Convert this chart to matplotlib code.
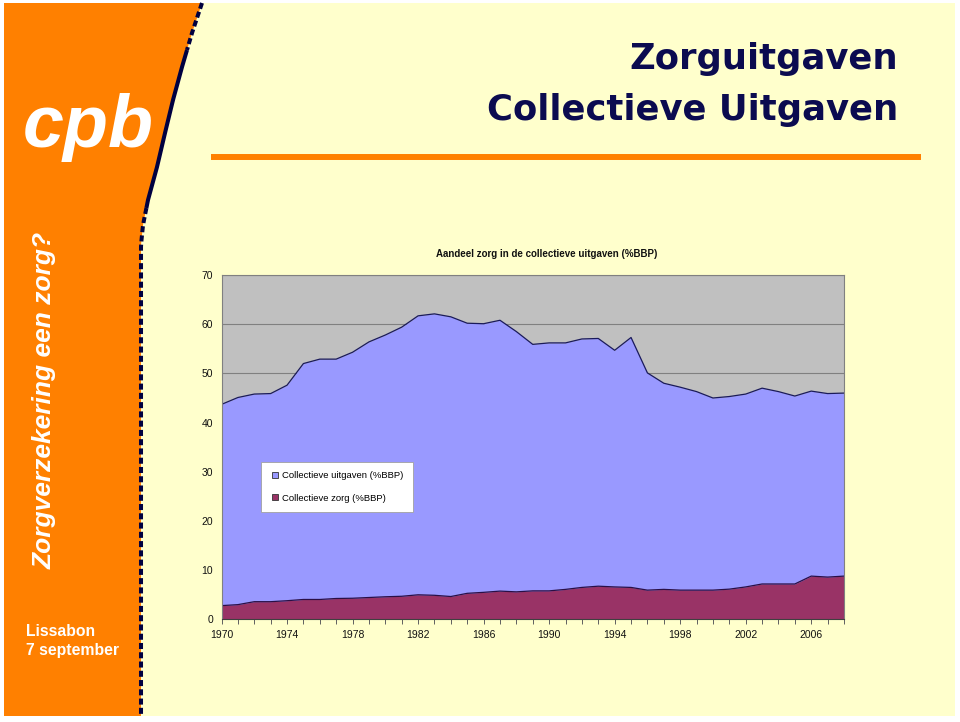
import matplotlib
matplotlib.use("Agg")
import matplotlib.pyplot as plt
from matplotlib.patches import Polygon, Rectangle
from matplotlib.lines import Line2D
from matplotlib.ticker import MultipleLocator, FixedLocator
import numpy as np

plt.rcParams['font.family'] = ['Liberation Sans', 'DejaVu Sans']

# ---------------- data ----------------
years = list(range(1970, 2009))
collectieve_uitgaven = [43.7, 45.1, 45.8, 45.9, 47.6, 52.0, 52.9, 52.9, 54.3, 56.4,
                        57.8, 59.4, 61.7, 62.1, 61.5, 60.2, 60.1, 60.8, 58.5, 55.9,
                        56.2, 56.2, 57.0, 57.1, 54.7, 57.3, 50.1, 48.0, 47.2, 46.3,
                        45.0, 45.3, 45.8, 47.0, 46.3, 45.4, 46.4, 45.9, 46.0]
collectieve_zorg = [2.8, 3.0, 3.6, 3.6, 3.8, 4.05, 4.05, 4.25, 4.3, 4.45,
                    4.6, 4.7, 5.0, 4.9, 4.65, 5.3, 5.5, 5.75, 5.6, 5.8,
                    5.8, 6.1, 6.5, 6.75, 6.6, 6.5, 5.95, 6.1, 5.95, 5.95,
                    5.95, 6.15, 6.6, 7.2, 7.2, 7.2, 8.8, 8.6, 8.8]
series_labels = ['Collectieve uitgaven (%BBP)', 'Collectieve zorg (%BBP)']
chart_title = 'Aandeel zorg in de collectieve uitgaven (%BBP)'
slide_title = ['Zorguitgaven', 'Collectieve Uitgaven']
side_text = 'Zorgverzekering een zorg?'
side_footer = ['Lissabon', '7 september']
logo_text = 'cpb'

# ---------------- colours ----------------
ORANGE = '#FF8000'
CREAM = '#FFFFCC'
NAVY = '#0B0B50'
EDGE = '#000040'
PLOT_BG = '#C0C0C0'
C_UIT = '#9999FF'
C_ZORG = '#993366'
LINE_C = '#1A1A5A'

W, H = 960, 722
fig = plt.figure(figsize=(W / 100, H / 100), dpi=100, facecolor='white')

# background / decoration layer in pixel coordinates
bg = fig.add_axes([0, 0, 1, 1])
bg.set_xlim(0, W)
bg.set_ylim(H, 0)
bg.axis('off')

bg.add_patch(Rectangle((4, 3), 955 - 4, 716 - 3, facecolor=CREAM, edgecolor='none', zorder=0))

curve = [(202, 3), (192, 33), (182, 67), (173, 100), (165, 133), (157, 167),
         (148, 200), (143, 225), (141, 245), (141, 716)]
side_poly = [(4, 3)] + curve + [(4, 716)]
bg.add_patch(Polygon(side_poly, closed=True, facecolor=ORANGE, edgecolor='none', zorder=1))

cx = np.array([p[0] for p in curve], dtype=float)
cy = np.array([p[1] for p in curve], dtype=float)
ys_top = np.linspace(3, 50, 20)
bg.plot(np.interp(ys_top, cy, cx), ys_top, color=EDGE, lw=2.9,
        ls=(0, (1.5, 0.8)), dash_capstyle='butt', zorder=2)
ys_mid = np.linspace(50, 208, 40)
bg.plot(np.interp(ys_mid, cy, cx), ys_mid, color=EDGE, lw=2.9, solid_capstyle='butt', zorder=2)
ys_low = np.linspace(208, 716, 80)
bg.plot(np.interp(ys_low, cy, cx), ys_low, color=EDGE, lw=2.9,
        ls=(0, (1.5, 0.8)), dash_capstyle='butt', zorder=2)

# orange rule under title
bg.plot([211, 921], [157, 157], color=ORANGE, lw=4.3, solid_capstyle='butt', zorder=2)

# slide title
bg.text(898, 69, slide_title[0], ha='right', va='baseline', color=NAVY,
        fontsize=25.5, fontweight='bold', family=['DejaVu Sans'], zorder=3)
bg.text(898, 120, slide_title[1], ha='right', va='baseline', color=NAVY,
        fontsize=25.5, fontweight='bold', family=['DejaVu Sans'], zorder=3)

# logo
bg.text(88, 147, logo_text, ha='center', va='baseline', color='white',
        fontsize=53, fontweight='bold', fontstyle='italic', family=['Liberation Sans'], zorder=3)

# vertical side text
bg.text(45, 400, side_text, ha='center', va='center', rotation=90, color='white',
        fontsize=19, fontweight='bold', fontstyle='italic', family=['Liberation Sans'], zorder=3)

bg.text(26, 636, side_footer[0], ha='left', va='baseline', color='white',
        fontsize=11.3, fontweight='bold', zorder=3)
bg.text(26, 655, side_footer[1], ha='left', va='baseline', color='white',
        fontsize=11.3, fontweight='bold', zorder=3)

# ---------------- chart ----------------
left, right, top_px, bottom_px = 221.5, 844.0, 275.0, 619.4
ax = fig.add_axes([left / W, 1 - bottom_px / H, (right - left) / W, (bottom_px - top_px) / H])
ax.set_facecolor(PLOT_BG)
ax.set_xlim(years[0], years[-1])
ax.set_ylim(0, 70)

ax.fill_between(years, 0, collectieve_uitgaven, color=C_UIT, lw=0, zorder=2)
ax.plot(years, collectieve_uitgaven, color=LINE_C, lw=0.9, zorder=3)
ax.fill_between(years, 0, collectieve_zorg, color=C_ZORG, lw=0, zorder=4)
ax.plot(years, collectieve_zorg, color='#2A0F45', lw=0.9, zorder=5)

ax.yaxis.set_major_locator(MultipleLocator(10))
ax.grid(axis='y', color='#808080', lw=0.8, zorder=1)
ax.set_axisbelow(True)
ax.xaxis.set_major_locator(FixedLocator([y for y in years if (y - 1970) % 4 == 0]))
ax.xaxis.set_minor_locator(MultipleLocator(1))
ax.tick_params(axis='x', which='both', direction='out', length=3.3, width=0.7,
               color='#606060', labelsize=7.5, pad=4.3, labelcolor='#111111')
ax.tick_params(axis='y', length=0, pad=6, labelsize=7.5, labelcolor='#111111')
for s in ['left', 'right', 'top']:
    ax.spines[s].set_color('#808080')
    ax.spines[s].set_linewidth(0.8)
ax.spines['bottom'].set_color('#404040')
ax.spines['bottom'].set_linewidth(0.8)
for s in ax.spines.values():
    s.set_zorder(6)

ax.set_title(chart_title, x=(547 - left) / (right - left), pad=13.3,
             fontsize=7, fontweight='bold', color='#111111')

handles = [Line2D([], [], ls='none', marker='s', markersize=4.2, markerfacecolor=C_UIT,
                  markeredgecolor='#333333', markeredgewidth=0.6),
           Line2D([], [], ls='none', marker='s', markersize=4.2, markerfacecolor=C_ZORG,
                  markeredgecolor='#333333', markeredgewidth=0.6)]
leg = ax.legend(handles, series_labels, loc='upper left',
                bbox_to_anchor=(261 / W, 1 - 462 / H), bbox_transform=fig.transFigure,
                borderaxespad=0, fontsize=6.8, frameon=True, fancybox=False, framealpha=1.0,
                borderpad=1.0, handlelength=1.0, handletextpad=0.25, labelspacing=1.4)
leg.get_frame().set_facecolor('white')
leg.get_frame().set_edgecolor('#A0A0A0')
leg.get_frame().set_linewidth(0.6)
leg.set_zorder(10)

fig.savefig('out.png', dpi=100, facecolor='white')
